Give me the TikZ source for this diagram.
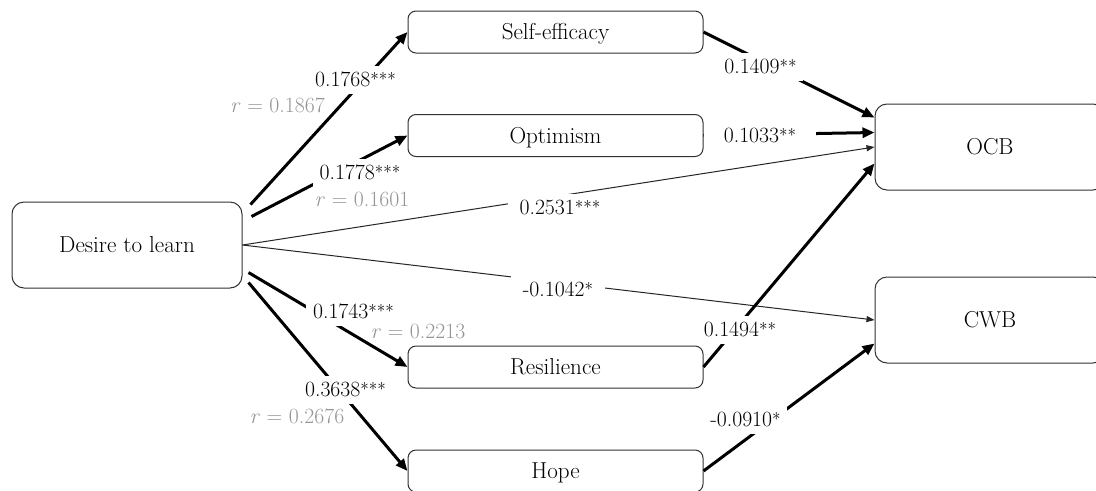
\documentclass[tikz,border=0pt]{standalone}
\usepackage{fontspec}
\usetikzlibrary{arrows.meta,calc}
\definecolor{rgray}{RGB}{150,150,150}
\definecolor{boxc}{RGB}{50,50,50}
\newcommand{\sigstars}[1]{\raisebox{1pt}{\fontsize{13}{14}\selectfont #1}}
\begin{document}
\begin{tikzpicture}[x=0.75pt,y=-0.75pt,
  box/.style={draw=boxc,line width=0.75pt,rounded corners=6pt,inner sep=0pt,
    minimum width=221.25pt,minimum height=31.5pt,
    font=\fontsize{17.3}{20}\selectfont,text height=11.8pt,text depth=0pt},
  bigbox/.style={box,rounded corners=9pt,minimum width=172.5pt,minimum height=64.5pt},
  tarr/.style={line width=2.25pt,-{Triangle[length=9pt,width=7.5pt]}},
  narr/.style={line width=0.75pt,draw=black!85,-{Triangle[length=6pt,width=4.5pt]}},
  lab/.style={fill=white,inner sep=5pt,font=\fontsize{16.3}{19}\selectfont,text height=10.3pt,text depth=0pt},
  rlab/.style={lab,fill=none,text=rgray}
]
\path[use as bounding box,fill=white] (0,0) rectangle (1096,490);

% boxes
\node[box] (se) at (555.5,32) {Self-efficacy};
\node[box] (opt) at (555.5,135.5) {Optimism};
\node[box] (res) at (555.5,367) {Resilience};
\node[box] (hope) at (555.5,471) {Hope};
\node[bigbox] (d) at (127,245) {Desire to learn};
\node[bigbox] (ocb) at (990,147) {OCB};
\node[bigbox] (cwb) at (990,320) {CWB};

% connectors
\draw[tarr] ($(d.north east)+(8,3)$) -- (se.west);
\draw[tarr] ($(d.north east)+(9,15)$) -- (opt.west);
\draw[narr] (d.east) -- (ocb.west);
\draw[narr] (d.east) -- (cwb.west);
\draw[tarr] ($(d.south east)+(6,-16)$) -- (res.west);
\draw[tarr] ($(d.south east)+(6,-6)$) -- (hope.west);
\draw[tarr] (se.east) -- ($(ocb.north west)+(0,14)$);
\draw[tarr] (opt.east) -- ($(ocb.north west)+(0,29)$);
\draw[tarr] (res.east) -- ($(ocb.south west)+(0,-27)$);
\draw[tarr] (hope.east) -- ($(cwb.south west)+(0,-20)$);

% labels
\node[lab] (l1) at (355.5,80) {0.1768\sigstars{***}};
\node[rlab] (r1) at (277.5,106) {\textit{r} = 0.1867};
\node[lab] (l2) at (360,173) {0.1778\sigstars{***}};
\node[rlab] (r2) at (362,200) {\textit{r} = 0.1601};
\node[lab,inner xsep=9pt] (l3) at (560,208) {0.2531\sigstars{***}};
\node[lab,inner xsep=9pt] (l4) at (558,290) {-0.1042\sigstars{*}};
\node[lab] (l5) at (353.5,312) {0.1743\sigstars{***}};
\node[rlab] (r5) at (418,332) {\textit{r} = 0.2213};
\node[lab] (l6) at (345.5,390) {0.3638\sigstars{***}};
\node[rlab] (r6) at (297,417) {\textit{r} = 0.2676};
\node[lab] (l7) at (760.5,67) {0.1409\sigstars{**}};
\node[lab,inner xsep=0pt,minimum width=84pt] (l8) at (760,135.5) {0.1033\sigstars{**}};
\node[lab] (l9) at (740,330) {0.1494\sigstars{**}};
\node[lab] (l10) at (745.5,420) {-0.0910\sigstars{*}};
\end{tikzpicture}
\end{document}
